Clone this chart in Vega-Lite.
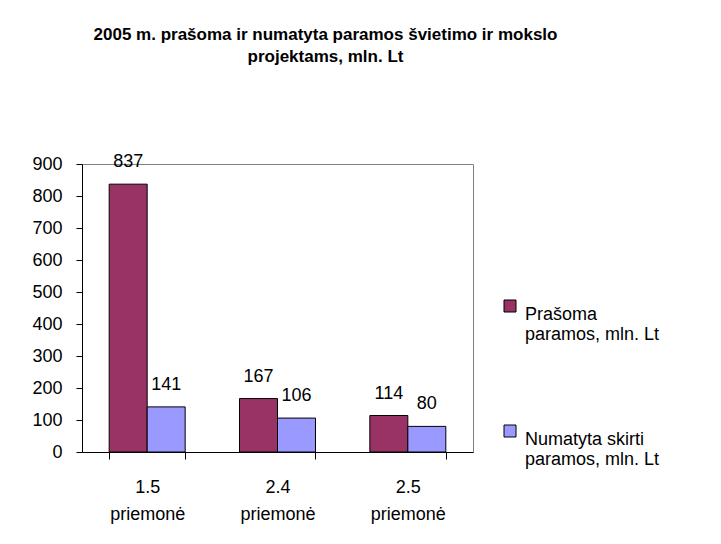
{
  "$schema": "https://vega.github.io/schema/vega-lite/v6.json",
  "width": 391,
  "height": 288,
  "autosize": {"type": "none"},
  "padding": {"left": 82, "top": 164, "right": 248, "bottom": 92},
  "background": "white",
  "title": {
    "text": ["2005 m. prašoma ir numatyta paramos švietimo ir mokslo", "projektams, mln. Lt"],
    "font": "Liberation Sans",
    "fontSize": 17,
    "fontWeight": "bold",
    "color": "black",
    "lineHeight": 22,
    "anchor": "middle",
    "dx": 48,
    "offset": 87
  },
  "config": {
    "view": {"stroke": "#808080", "strokeWidth": 1},
    "font": "Liberation Sans"
  },
  "data": {
    "values": [
      {"priemone": "1.5 priemonė", "serija": "Prašoma paramos, mln. Lt", "value": 837},
      {"priemone": "1.5 priemonė", "serija": "Numatyta skirti paramos, mln. Lt", "value": 141},
      {"priemone": "2.4 priemonė", "serija": "Prašoma paramos, mln. Lt", "value": 167},
      {"priemone": "2.4 priemonė", "serija": "Numatyta skirti paramos, mln. Lt", "value": 106},
      {"priemone": "2.5 priemonė", "serija": "Prašoma paramos, mln. Lt", "value": 114},
      {"priemone": "2.5 priemonė", "serija": "Numatyta skirti paramos, mln. Lt", "value": 80}
    ]
  },
  "encoding": {
    "x": {
      "field": "priemone",
      "type": "nominal",
      "sort": null,
      "scale": {"paddingInner": 0.417, "paddingOuter": 0.2085},
      "axis": {
        "title": null,
        "labelAngle": 0,
        "labelExpr": "split(datum.label, ' ')",
        "labelFont": "Liberation Sans",
        "labelFontSize": 18,
        "labelColor": "black",
        "labelLineHeight": 27,
        "labelPadding": 19,
        "tickBand": "extent",
        "tickSize": 7,
        "tickColor": "black",
        "domainColor": "black",
        "grid": false
      }
    },
    "xOffset": {"field": "serija", "type": "nominal", "sort": null, "scale": {"paddingInner": 0, "paddingOuter": 0}},
    "y": {
      "field": "value",
      "type": "quantitative",
      "scale": {"domain": [0, 900], "nice": false},
      "axis": {
        "title": null,
        "values": [0, 100, 200, 300, 400, 500, 600, 700, 800, 900],
        "labelFont": "Liberation Sans",
        "labelFontSize": 18,
        "labelColor": "black",
        "labelPadding": 14,
        "tickSize": 6,
        "tickColor": "black",
        "domainColor": "black",
        "grid": false
      }
    }
  },
  "layer": [
    {
      "mark": {"type": "bar", "stroke": "black", "strokeWidth": 1},
      "encoding": {
        "color": {
          "field": "serija",
          "type": "nominal",
          "sort": null,
          "scale": {"range": ["#993366", "#9999FF"]},
          "legend": {
            "orient": "none",
            "legendX": 419,
            "legendY": 133,
            "title": null,
            "padding": 0,
            "symbolType": "square",
            "symbolSize": 144,
            "symbolStrokeColor": "black",
            "symbolStrokeWidth": 1,
            "labelExpr": "datum.label == 'Prašoma paramos, mln. Lt' ? ['Prašoma', 'paramos, mln. Lt'] : ['Numatyta skirti', 'paramos, mln. Lt']",
            "labelFont": "Liberation Sans",
            "labelFontSize": 18,
            "labelColor": "black",
            "labelLineHeight": 28,
            "labelOffset": 6,
            "labelBaseline": "top",
            "labelLimit": 300,
            "rowPadding": 78
          }
        }
      }
    },
    {
      "mark": {"type": "text", "baseline": "alphabetic", "dy": -17, "fontSize": 18, "font": "Liberation Sans", "color": "black"},
      "encoding": {"text": {"field": "value", "type": "quantitative"}}
    }
  ]
}
